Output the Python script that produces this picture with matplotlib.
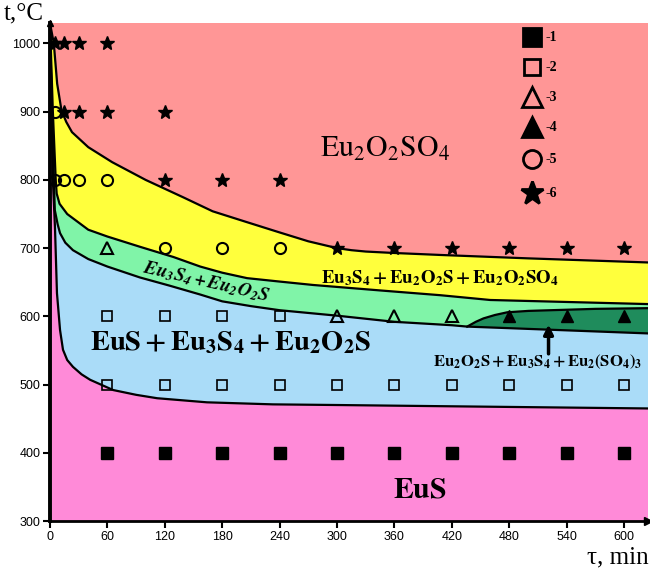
import matplotlib
matplotlib.use("Agg")
import matplotlib.pyplot as plt
import numpy as np

plt.rcParams['mathtext.fontset'] = 'stix'
plt.rcParams['font.family'] = ['Liberation Sans Narrow', 'Liberation Sans', 'DejaVu Sans']

# phase boundaries, (time, temperature)
a_t = [0, 4, 7.5, 12, 17, 23, 40, 65, 100, 120, 140, 170, 206, 240, 270, 285, 300, 315,
       330, 358, 408, 500, 625]
a_T = [1030, 1000, 941, 902, 885, 870, 848, 826, 800, 787, 774, 754, 738, 723, 710, 705,
       700, 697, 695, 693, 690, 685, 679]

b_t = [0, 3, 6, 7, 10, 18, 40, 60, 94, 129, 157, 180, 206, 240, 275, 345, 408, 460, 625]
b_T = [1030, 900, 800, 780, 765, 750, 727, 717, 702, 687, 673, 664, 656, 651, 646, 638,
       631, 624, 618]

c_t = [0, 2, 5, 8, 10.5, 16, 24, 40, 60, 94, 125, 157, 180, 210, 240, 270, 300, 360, 420,
       436, 625]
c_T = [1030, 900, 756, 735, 722, 708, 697, 684, 673, 657, 645, 632, 622, 615, 609, 605,
       601, 592, 587, 585, 575]

d_t = [0, 3, 5.2, 7.3, 10.5, 13.6, 18, 24, 33, 42, 66, 90, 112, 164, 233, 303, 366, 625]
d_T = [1030, 800, 731, 634, 580, 551, 536, 526, 515, 507, 492, 485, 480, 474, 471, 470,
       469, 465]

# upper edge of the dark green field
e_t = [436, 445, 453, 465, 478, 500, 523, 570, 625]
e_T = [585, 592, 597, 602, 606, 608, 609, 611, 612]

# experimental points
p1_t = [60, 120, 180, 240, 300, 360, 420, 480, 540, 600]
p1_T = [400] * 10
p2_t = [60, 120, 180, 240, 300, 360, 420, 480, 540, 600, 60, 120, 180, 240]
p2_T = [500] * 10 + [600] * 4
p3_t = [60, 300, 360, 420]
p3_T = [700, 600, 600, 600]
p4_t = [480, 540, 600]
p4_T = [600, 600, 600]
p5_t = [5, 5, 15, 30, 60, 120, 180, 240]
p5_T = [900, 800, 800, 800, 800, 700, 700, 700]
p6_t = [5, 15, 30, 60, 15, 30, 60, 120, 120, 180, 240, 300, 360, 420, 480, 540, 600]
p6_T = [1000, 1000, 1000, 1000, 900, 900, 900, 900, 800, 800, 800, 700, 700, 700, 700, 700, 700]

x_ticks = list(range(0, 601, 60))
y_ticks = list(range(300, 1001, 100))

fig = plt.figure(figsize=(6.5, 5.68), dpi=100)
ax = fig.add_axes([0.0769, 0.0827, 0.9201, 0.8768])
ax.set_xlim(0, 625)
ax.set_ylim(300, 1030)

top, bot, right = 1060, 280, 640

def region(upper_t, upper_T, lower_t, lower_T, color):
    xs = list(upper_t) + list(lower_t)[::-1]
    ys = list(upper_T) + list(lower_T)[::-1]
    ax.fill(xs, ys, color=color, lw=0, zorder=1)

region([0, right], [top, top], a_t, a_T, '#ff9696')
region(a_t, a_T, b_t, b_T, '#ffff3c')
region(b_t, b_T, c_t, c_T, '#80f4a8')
region(c_t, c_T, d_t, d_T, '#aadcf8')
region(d_t, d_T, [0, right], [bot, bot], '#ff8ad8')
region(e_t, e_T, c_t[-2:], c_T[-2:], '#1f8c5c')

for xs, ys in [(a_t, a_T), (b_t, b_T), (c_t, c_T), (d_t, d_T), (e_t, e_T)]:
    ax.plot(xs, ys, color='black', lw=1.6, zorder=2, solid_joinstyle='round')

ax.plot(p1_t, p1_T, 's', color='black', ms=8, zorder=4)
ax.plot(p2_t, p2_T, 's', mfc='none', mec='black', mew=1.2, ms=7, zorder=4)
ax.plot(p3_t, p3_T, '^', mfc='none', mec='black', mew=1.5, ms=9, zorder=4)
ax.plot(p4_t, p4_T, '^', color='black', ms=9, zorder=4)
ax.plot(p5_t, p5_T, 'o', mfc='none', mec='black', mew=1.5, ms=8, zorder=4)
ax.plot(p6_t, p6_T, '*', color='black', ms=10, zorder=4)

# legend drawn by hand
leg = [('s', 'black', 13, '-1'), ('s', 'none', 11.5, '-2'), ('^', 'none', 14, '-3'),
       ('^', 'black', 14, '-4'), ('o', 'none', 13, '-5'), ('*', 'black', 17, '-6')]
leg_y = [37, 67, 97, 127, 159, 193]
for (m, fc, ms, lab), yp in zip(leg, leg_y):
    ya = (521 - yp) / 498
    ax.plot(0.806, ya, m, mfc=fc, mec='black', mew=2, ms=ms, transform=ax.transAxes,
            clip_on=False, zorder=5)
    ax.text(0.828, ya, lab, transform=ax.transAxes, ha='left', va='center',
            family='Liberation Serif', weight='bold', fontsize=10, zorder=5)

# field labels
ax.text(350, 846, r'$\mathrm{Eu_2O_2SO_4}$', fontsize=21.5, ha='center', va='center', zorder=5)
ax.text(408, 656, r'$\mathbf{Eu_3S_4 + Eu_2O_2S + Eu_2O_2SO_4}$', fontsize=13.5,
        ha='center', va='center', zorder=5)
ax.text(163, 651, r'$\mathbfit{Eu_3S_4 + Eu_2O_2S}$', fontsize=13.5, rotation=-13,
        ha='center', va='center', zorder=5)
ax.text(189, 561, r'$\mathbf{EuS + Eu_3S_4 + Eu_2O_2S}$', fontsize=20.5,
        ha='center', va='center', zorder=5)
ax.text(510, 533, r'$\mathbf{Eu_2O_2S + Eu_3S_4 + Eu_2(SO_4)_3}$', fontsize=12,
        ha='center', va='center', zorder=5, clip_on=False)
ax.text(387, 346, r'$\mathbf{EuS}$', fontsize=21.5, ha='center', va='center', zorder=5)

ax.annotate('', xy=(521, 592), xytext=(521, 541),
            arrowprops=dict(arrowstyle='-|>', color='black', lw=2.5, mutation_scale=14),
            zorder=6)

ax.set_xticks(x_ticks)
ax.set_yticks(y_ticks)
ax.tick_params(direction='out', length=5, width=1.5, labelsize=9, pad=2)
for s in ['top', 'right']:
    ax.spines[s].set_visible(False)
ax.spines['left'].set_linewidth(2.8)
ax.spines['bottom'].set_linewidth(2)
ax.spines['left'].set_zorder(7)
ax.spines['bottom'].set_zorder(7)
ax.plot(1, 0, '>', color='black', ms=6, transform=ax.transAxes, clip_on=False, zorder=8)
ax.plot(0, 1, '^', color='black', ms=5, transform=ax.transAxes, clip_on=False, zorder=8)

fig.text(0.006, 0.995, 't,°C', family='Liberation Serif', fontsize=18, ha='left', va='top')
fig.text(0.998, 0.0, 'τ, min', family='Liberation Serif', fontsize=18, ha='right', va='bottom')

fig.savefig('out.png', dpi=100)
